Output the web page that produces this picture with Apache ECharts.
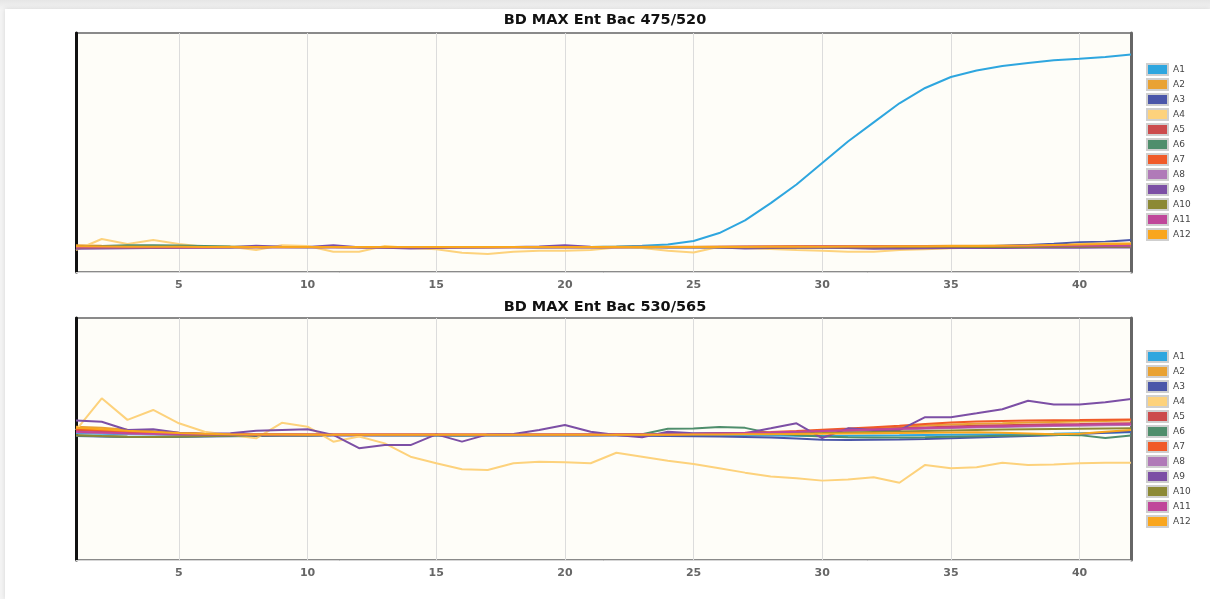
<!DOCTYPE html>
<html>
<head>
<meta charset="utf-8">
<script src="https://cdn.jsdelivr.net/npm/echarts@6/dist/echarts.min.js"></script>
<style>
  html, body { margin: 0; padding: 0; width: 1210px; height: 599px; overflow: hidden; }
  body { background: linear-gradient(#e6e6e6, #f4f4f4 10px); position: relative; }
  #panel { position: absolute; left: 5px; top: 9px; width: 1205px; height: 590px; background: #ffffff; box-shadow: 0 0 5px rgba(0,0,0,0.12); }
  #chart { position: absolute; left: 0; top: 0; width: 1210px; height: 599px; }
</style>
</head>
<body>
<div id="panel"></div>
<div id="chart"></div>
<script>
// ---------- Data ----------
const cycles = [1,2,3,4,5,6,7,8,9,10,11,12,13,14,15,16,17,18,19,20,21,22,23,24,25,26,27,28,29,30,31,32,33,34,35,36,37,38,39,40,41,42];
const seriesNames = ['A1','A2','A3','A4','A5','A6','A7','A8','A9','A10','A11','A12'];
const seriesColors = ['#2ea6df','#e9a233','#4a56a9','#fdd27c','#cc4b4c','#4f8e6c','#f05a28','#b07ab8','#7c4fa5','#8c8935','#c0479a','#f9a61e'];
const titleTop = 'BD MAX Ent Bac 475/520';
const titleBottom = 'BD MAX Ent Bac 530/565';
const tickCycles = [5,10,15,20,25,30,35,40];

// Channel 475/520 (arbitrary fluorescence units, no y labels in source)
const top_A1  = [10.3,10.4,10.5,10.4,10.5,10.5,10.4,10.5,10.5,10.4,10.5,10.5,10.4,10.5,10.5,10.4,10.5,10.5,10.4,10.5,10.5,10.7,11.0,11.5,13.0,16.3,21.6,28.8,36.6,45.6,54.6,62.6,70.6,77.0,81.6,84.3,86.2,87.4,88.6,89.2,90.0,91.0];
const top_A2  = [11.2,11.0,10.9,10.8,10.7,10.6,10.6,10.5,10.6,10.5,10.5,10.4,10.5,10.5,10.5,10.5,10.4,10.5,10.5,10.5,10.5,10.6,10.6,10.6,10.6,10.6,10.7,10.7,10.8,10.8,10.8,10.9,10.9,10.9,11.0,11.0,11.0,11.1,11.2,11.3,11.5,11.6];
const top_A3  = [10.2,10.3,10.3,10.4,10.4,10.4,10.4,10.5,10.5,10.5,10.5,10.4,10.4,10.4,10.5,10.5,10.5,10.5,10.5,10.5,10.5,10.5,10.5,10.4,10.4,10.3,10.2,10.2,10.2,10.3,10.3,10.2,10.3,10.4,10.5,10.7,11.0,11.3,11.8,12.4,12.7,13.4];
const top_A4  = [9.2,13.8,11.7,13.4,11.7,10.6,10.6,9.2,11.2,10.9,8.5,8.5,10.9,10.0,9.5,8.1,7.5,8.5,8.9,8.9,9.2,10.3,10.0,8.9,8.2,10.6,10.0,9.6,9.2,8.9,8.5,8.5,9.2,9.5,9.9,10.2,10.2,10.2,10.9,11.7,12.0,12.0];
const top_A5  = [10.4,10.4,10.4,10.4,10.5,10.5,10.5,10.5,10.5,10.5,10.5,10.5,10.5,10.5,10.5,10.5,10.5,10.5,10.5,10.5,10.5,10.5,10.5,10.5,10.5,10.6,10.6,10.6,10.7,10.7,10.7,10.8,10.8,10.8,10.9,10.9,10.9,11.0,11.0,11.1,11.1,11.2];
const top_A6  = [10.6,10.9,11.2,11.2,11.1,10.9,10.7,10.6,10.5,10.5,10.5,10.5,10.5,10.5,10.5,10.5,10.5,10.5,10.4,10.4,10.4,10.5,10.5,10.5,10.5,10.5,10.5,10.5,10.5,10.5,10.5,10.5,10.5,10.5,10.5,10.6,10.6,10.6,10.6,10.7,10.7,10.7];
const top_A7  = [10.6,10.6,10.5,10.5,10.5,10.5,10.5,10.5,10.5,10.5,10.5,10.5,10.5,10.5,10.5,10.5,10.5,10.5,10.5,10.5,10.5,10.5,10.5,10.5,10.5,10.5,10.5,10.6,10.6,10.6,10.6,10.6,10.7,10.7,10.7,10.7,10.8,10.8,10.8,10.9,10.9,11.0];
const top_A8  = [10.4,10.4,10.4,10.4,10.4,10.4,10.4,10.4,10.4,10.4,10.4,10.4,10.4,10.4,10.4,10.4,10.4,10.4,10.4,10.4,10.4,10.4,10.4,10.4,10.4,10.4,10.4,10.4,10.5,10.5,10.5,10.5,10.5,10.5,10.6,10.6,10.6,10.6,10.7,10.7,10.7,10.8];
const top_A9  = [9.7,9.8,9.9,10.0,10.1,10.3,10.4,11.0,10.6,10.5,11.2,10.4,10.1,9.8,10.0,10.3,10.4,10.5,10.7,11.2,10.6,10.5,10.6,10.4,10.5,10.3,9.8,10.0,10.1,10.1,10.0,9.7,9.8,9.9,10.0,10.0,10.0,10.1,10.1,10.1,10.2,10.2];
const top_A10 = [10.3,10.3,10.3,10.3,10.4,10.4,10.4,10.4,10.4,10.4,10.4,10.4,10.4,10.4,10.4,10.4,10.4,10.4,10.4,10.4,10.4,10.4,10.4,10.4,10.4,10.4,10.4,10.4,10.4,10.4,10.4,10.4,10.5,10.5,10.5,10.5,10.5,10.5,10.6,10.6,10.6,10.6];
const top_A11 = [10.2,10.3,10.3,10.3,10.3,10.3,10.4,10.4,10.4,10.4,10.4,10.4,10.4,10.4,10.4,10.4,10.4,10.4,10.4,10.4,10.4,10.4,10.5,10.5,10.5,10.5,10.6,10.6,10.6,10.7,10.7,10.7,10.8,10.8,10.8,10.9,10.9,10.9,11.0,11.0,11.0,11.0];
const top_A12 = [10.8,10.7,10.6,10.6,10.6,10.5,10.5,10.5,10.5,10.5,10.5,10.5,10.5,10.5,10.5,10.5,10.5,10.5,10.5,10.5,10.5,10.5,10.5,10.5,10.5,10.5,10.5,10.6,10.6,10.6,10.7,10.7,10.8,10.8,10.9,10.9,11.0,11.1,11.3,11.5,11.7,11.8];

// Channel 530/565
const bot_A1  = [52.4,52.2,52.0,51.9,51.8,51.7,51.7,51.7,51.7,51.7,51.7,51.7,51.7,51.7,51.6,51.6,51.7,51.7,51.7,51.7,51.7,51.7,51.6,51.6,51.6,51.5,51.5,51.4,51.3,51.2,51.3,51.4,51.5,51.7,51.8,51.9,52.0,52.1,52.2,52.4,52.6,52.8];
const bot_A2  = [55.1,54.6,53.8,53.2,52.6,52.2,52.0,51.9,51.9,51.8,51.8,51.8,51.8,51.8,51.8,51.8,51.8,51.8,51.8,51.8,51.9,51.9,51.9,52.0,52.1,52.2,52.4,52.7,53.0,53.4,53.9,54.5,55.0,55.6,56.0,56.3,56.5,56.8,57.0,57.2,57.4,57.6];
const bot_A3  = [51.2,51.0,50.8,50.8,50.9,51.0,51.1,51.2,51.3,51.3,51.4,51.4,51.4,51.4,51.4,51.4,51.4,51.4,51.4,51.4,51.4,51.4,51.3,51.2,51.1,51.0,50.8,50.6,50.2,49.7,49.6,49.7,49.8,50.0,50.3,50.6,50.9,51.2,51.6,52.1,52.6,53.0];
const bot_A4  = [53.7,66.8,57.9,62.0,56.5,53.0,51.7,50.3,56.7,55.1,48.9,51.0,48.2,42.7,40.0,37.5,37.2,40.0,40.6,40.4,40.0,44.3,42.7,41.0,39.7,37.9,36.1,34.5,33.8,32.8,33.3,34.2,31.9,39.3,37.9,38.3,40.2,39.3,39.5,40.0,40.2,40.2];
const bot_A5  = [53.6,53.2,52.8,52.5,52.3,52.1,52.0,51.9,51.9,51.8,51.8,51.8,51.8,51.8,51.8,51.7,51.7,51.8,51.8,51.8,51.8,51.9,51.9,52.0,52.1,52.2,52.3,52.5,52.8,53.2,53.6,54.0,54.4,54.8,55.2,55.5,55.7,55.9,56.1,56.2,56.4,56.5];
const bot_A6  = [51.4,51.1,50.9,50.8,50.9,51.1,51.3,51.5,51.6,51.6,51.7,51.7,51.6,51.5,51.5,51.4,51.5,51.6,51.6,51.6,51.6,51.7,52.0,54.2,54.3,55.0,54.6,52.4,51.6,51.0,50.7,50.6,50.6,50.7,50.9,51.1,51.3,51.5,51.8,51.6,50.4,51.4];
const bot_A7  = [54.0,53.6,53.0,52.6,52.3,52.1,52.0,51.9,51.9,51.9,51.9,51.9,51.9,51.9,51.9,51.9,51.9,51.9,51.9,51.9,51.9,51.9,52.0,52.1,52.2,52.4,52.6,52.9,53.3,53.8,54.3,54.9,55.5,56.2,56.8,57.2,57.4,57.6,57.7,57.8,58.0,58.1];
const bot_A8  = [52.8,52.5,52.2,52.0,51.9,51.8,51.8,51.8,51.8,51.8,51.8,51.8,51.8,51.8,51.8,51.8,51.8,51.8,51.8,51.8,51.8,51.8,51.9,52.0,52.1,52.2,52.4,52.6,52.8,53.0,53.3,53.6,53.9,54.2,54.5,54.8,55.0,55.2,55.4,55.5,55.7,55.8];
const bot_A9  = [57.6,57.1,53.7,54.0,52.6,52.1,52.4,53.4,53.7,54.0,51.7,46.2,47.5,47.5,51.9,48.9,51.9,52.1,53.7,55.8,53.0,51.7,50.7,53.0,52.4,52.4,52.4,54.4,56.5,50.4,54.4,53.7,53.7,59.0,59.0,60.6,62.3,65.8,64.3,64.3,65.2,66.5];
const bot_A10 = [51.6,51.2,50.9,50.8,51.0,51.2,51.4,51.5,51.6,51.6,51.7,51.7,51.7,51.7,51.7,51.7,51.7,51.7,51.7,51.7,51.7,51.7,51.8,51.9,52.0,52.1,52.2,52.3,52.4,52.5,52.7,52.9,53.1,53.3,53.5,53.7,53.9,54.0,54.1,54.2,54.3,54.4];
const bot_A11 = [53.0,52.7,52.4,52.2,52.0,51.9,51.9,51.8,51.8,51.8,51.8,51.8,51.8,51.8,51.8,51.8,51.8,51.8,51.8,51.8,51.8,51.9,51.9,52.0,52.1,52.3,52.5,52.7,53.0,53.3,53.6,53.9,54.2,54.5,54.8,55.1,55.3,55.5,55.7,55.9,56.1,56.2];
const bot_A12 = [54.6,54.0,53.4,52.9,52.5,52.2,52.0,51.9,51.9,51.8,51.8,51.8,51.8,51.8,51.8,51.8,51.8,51.8,51.8,51.8,51.8,51.8,51.8,51.8,51.9,51.9,52.0,52.0,52.1,52.2,52.3,52.4,52.5,52.6,52.7,52.8,52.6,52.3,52.0,52.2,53.0,53.7];

const topData = [top_A1,top_A2,top_A3,top_A4,top_A5,top_A6,top_A7,top_A8,top_A9,top_A10,top_A11,top_A12];
const botData = [bot_A1,bot_A2,bot_A3,bot_A4,bot_A5,bot_A6,bot_A7,bot_A8,bot_A9,bot_A10,bot_A11,bot_A12];

// ---------- Chart ----------
const chart = echarts.init(document.getElementById('chart'), null, { renderer: 'canvas' });
const FONT = 'DejaVu Sans, Verdana, sans-serif';
const showTick = (idx) => tickCycles.indexOf(cycles[idx]) !== -1;

function xAxisCfg(gridIndex) {
  return {
    type: 'category', gridIndex, data: cycles, boundaryGap: false,
    axisLine: { show: true, lineStyle: { color: '#d6d6d6', width: 1 } },
    axisTick: { show: false },
    axisLabel: { interval: showTick, color: '#666', fontSize: 11, fontWeight: 'bold', fontFamily: FONT, margin: 8 },
    splitLine: { show: true, interval: showTick, lineStyle: { color: '#dcdcdc', width: 1 } }
  };
}
function yAxisCfg(gridIndex) {
  return {
    type: 'value', gridIndex, min: 0, max: 100, position: 'left',
    axisLine: { show: true, onZero: false, lineStyle: { color: '#111', width: 3 } },
    axisTick: { show: false }, axisLabel: { show: false }, splitLine: { show: false }
  };
}
function yAxisRightCfg(gridIndex) {
  return {
    type: 'value', gridIndex, min: 0, max: 100, position: 'right',
    axisLine: { show: true, onZero: false, lineStyle: { color: '#666', width: 3 } },
    axisTick: { show: false }, axisLabel: { show: false }, splitLine: { show: false }
  };
}
function legendCfg(top) {
  return {
    orient: 'vertical', left: 1146, top, padding: 0, data: seriesNames,
    icon: 'rect', itemWidth: 21, itemHeight: 11, itemGap: 2,
    itemStyle: { borderColor: '#cfcfcf', borderWidth: 2 },
    textStyle: { color: '#444', fontSize: 9, fontFamily: FONT, lineHeight: 11, padding: [0, 0, 0, 0] },
    selectedMode: false
  };
}

const series = [];
seriesNames.forEach((name, i) => {
  series.push({ name, type: 'line', xAxisIndex: 0, yAxisIndex: 0, data: topData[i], symbol: 'none',
    lineStyle: { width: 2, color: seriesColors[i] }, itemStyle: { color: seriesColors[i] }, animation: false });
});
seriesNames.forEach((name, i) => {
  series.push({ name, type: 'line', xAxisIndex: 1, yAxisIndex: 1, data: botData[i], symbol: 'none',
    lineStyle: { width: 2, color: seriesColors[i] }, itemStyle: { color: seriesColors[i] }, animation: false });
});

chart.setOption({
  animation: false,
  color: seriesColors,
  title: [
    { text: titleTop, left: 'center', top: 8, textStyle: { fontSize: 14.5, fontWeight: 'bold', color: '#111', fontFamily: FONT } },
    { text: titleBottom, left: 'center', top: 295, textStyle: { fontSize: 14.5, fontWeight: 'bold', color: '#111', fontFamily: FONT } }
  ],
  grid: [
    { left: 76, top: 33, width: 1055, height: 239, show: true, backgroundColor: '#fefdf8', borderColor: '#8a8a8a', borderWidth: 2 },
    { left: 76, top: 318, width: 1055, height: 242, show: true, backgroundColor: '#fefdf8', borderColor: '#8a8a8a', borderWidth: 2 }
  ],
  legend: [legendCfg(63), legendCfg(350)],
  xAxis: [xAxisCfg(0), xAxisCfg(1)],
  yAxis: [yAxisCfg(0), yAxisCfg(1), yAxisRightCfg(0), yAxisRightCfg(1)],
  series
});
</script>
</body>
</html>
